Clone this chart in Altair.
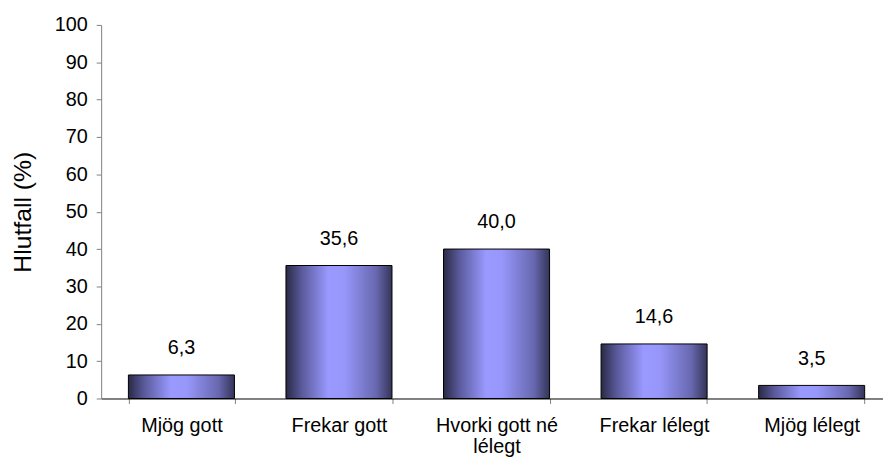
import altair as alt
import pandas as pd

categories = ["Mjög gott", "Frekar gott", "Hvorki gott né lélegt", "Frekar lélegt", "Mjög lélegt"]
values = [6.3, 35.6, 40.0, 14.6, 3.5]
value_labels = ["6,3", "35,6", "40,0", "14,6", "3,5"]
y_ticks = [0, 10, 20, 30, 40, 50, 60, 70, 80, 90, 100]

df = pd.DataFrame({"cat": categories, "val": values, "lab": value_labels})

FONT = "Liberation Sans"

grad = alt.Gradient(
    gradient="linear", x1=0, x2=1, y1=0, y2=0,
    stops=[
        alt.GradientStop(offset=0, color="#2a2a45"),
        alt.GradientStop(offset=0.15, color="#5a5a9c"),
        alt.GradientStop(offset=0.4, color="#9999ff"),
        alt.GradientStop(offset=0.55, color="#9797fb"),
        alt.GradientStop(offset=0.85, color="#6868b0"),
        alt.GradientStop(offset=1, color="#343458"),
    ],
)

x = alt.X(
    "cat:N", sort=categories, title=None,
    scale=alt.Scale(paddingInner=0.327, paddingOuter=0.173, range=[0, 798]),
    axis=alt.Axis(
        labelAngle=0, labelFont=FONT, labelFontSize=20, labelColor="black",
        labelPadding=12, labelLineHeight=22, labelOverlap=False, labelBaseline="top",
        labelExpr="datum.label == 'Hvorki gott né lélegt' ? ['Hvorki gott né', 'lélegt'] : datum.label",
        tickBand="extent", tickSize=5, tickColor="#808080",
        domainColor="#000000", domainWidth=1,
    ),
)

y = alt.Y(
    "val:Q", title="Hlutfall (%)",
    scale=alt.Scale(domain=[0, 100]),
    axis=alt.Axis(
        values=y_ticks, tickCount=11, grid=False, labelOverlap=False,
        labelFont=FONT, labelFontSize=20, labelColor="black", labelPadding=9,
        tickSize=5, tickColor="#808080", domainColor="#808080",
        titleFont=FONT, titleFontSize=25, titleFontWeight="normal", titleColor="black",
        titlePadding=19,
    ),
)

base = alt.Chart(df).encode(x=x, y=y)

bars = base.mark_bar(color=grad, stroke="black", strokeWidth=1)

text = base.mark_text(
    font=FONT, fontSize=20, color="black", baseline="alphabetic", dy=-21
).encode(text="lab:N")

chart = (bars + text).properties(
    width=789, height=377,
    autosize=alt.AutoSizeParams(type="none"),
    padding={"left": 94, "top": 15, "right": 0, "bottom": 60},
).configure_view(stroke=None)

chart.save("out.html", embed_options={"renderer": "svg", "actions": False})
